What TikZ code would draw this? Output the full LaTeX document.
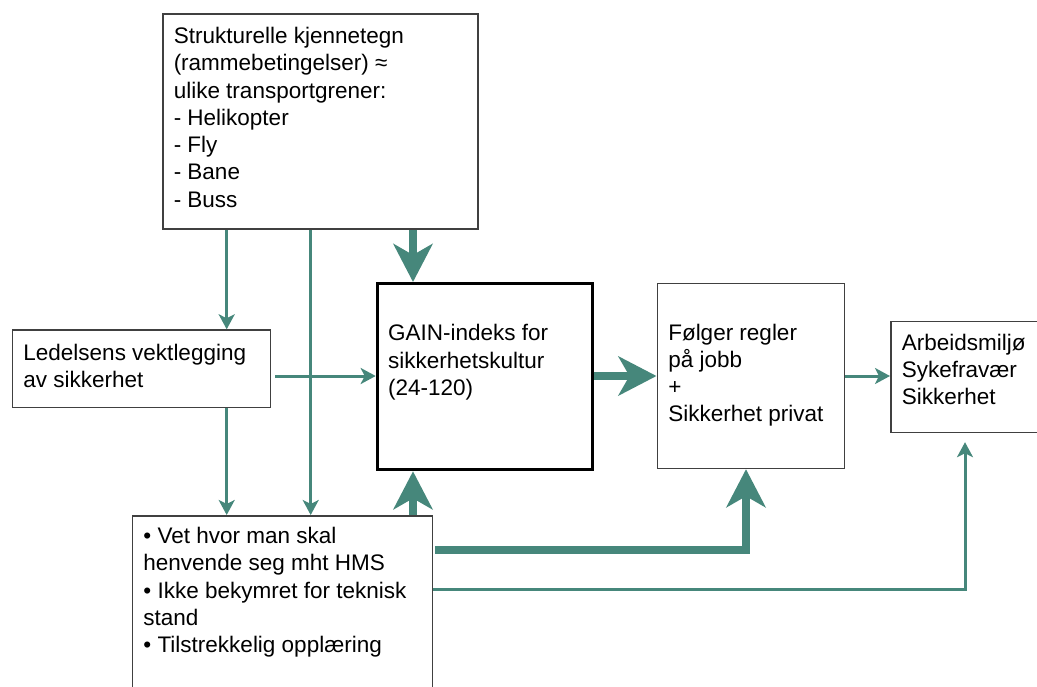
\documentclass[tikz,border=0pt]{standalone}
\usepackage{fontspec}
\setmainfont{Liberation Sans}
\usetikzlibrary{arrows.meta,calc}
\definecolor{linkteal}{RGB}{70,135,123}
\newcommand{\bxt}[4]{\parbox[c][#2][t]{#1}{\vspace*{#3}\raggedright\strut #4}}
\begin{document}
\begin{tikzpicture}[x=1pt,y=-1pt,
  box/.style={draw=black!75, line width=1.5pt, rectangle, inner xsep=11pt, inner ysep=0pt,
    anchor=north west, font=\fontsize{22.5pt}{27.3pt}\selectfont},
  mainbox/.style={box, draw=black, line width=3pt},
  lnk/.style={draw=linkteal, line width=3pt, -{Stealth[length=15pt,width=16pt,inset=4pt]}},
  biglnk/.style={draw=linkteal, line width=7.5pt, -{Stealth[length=38pt,width=39pt,inset=11pt]}}]
\useasboundingbox (0,0) rectangle (1037,686);
\clip (0,0) rectangle (1037,686);

\node[box] (A) at (162,13.3) {\bxt{293pt}{215pt}{10.3pt}{Strukturelle kjennetegn\\(rammebetingelser) ≈\\ulike transportgrener:\\- Helikopter\\- Fly\\- Bane\\- Buss}};
\node[box] (L) at (11.7,329.3) {\bxt{236pt}{77.4pt}{10.9pt}{Ledelsens vektlegging\\av sikkerhet}};
\node[mainbox] (G) at (375.7,282) {\bxt{193pt}{186.3pt}{38.2pt}{GAIN-indeks for\\sikkerhetskultur\\(24-120)}};
\node[box] (F) at (656.5,282.7) {\bxt{165pt}{185pt}{37.5pt}{Følger regler\\på jobb\\+\\Sikkerhet privat}};
\node[box] (R) at (890,320.7) {\bxt{140pt}{111pt}{9.5pt}{Arbeidsmiljø\\Sykefravær\\Sikkerhet}};
\node[box] (B) at (131.7,515) {\bxt{278pt}{200pt}{8.6pt}{• Vet hvor man skal\\henvende seg mht HMS\\• Ikke bekymret for teknisk\\stand\\• Tilstrekkelig opplæring}};

\coordinate (xa) at (226.7,0);
\coordinate (xb) at (310.7,0);
\coordinate (xg) at (413,0);
\coordinate (xf) at (746,0);
\coordinate (xr) at (965,0);
\coordinate (ym) at (0,376);
\coordinate (y1) at (0,550);
\coordinate (y2) at (0,589);

\draw[lnk] (A.south -| xa) -- (L.north -| xa);
\draw[lnk] (A.south -| xb) -- (B.north -| xb);
\draw[biglnk] (A.south -| xg) -- (G.north -| xg);
\draw[lnk, shorten <=4pt] (L.east |- ym) -- (G.west |- ym);
\draw[lnk] (L.south -| xa) -- (B.north -| xa);
\draw[biglnk] (G.east |- ym) -- (F.west |- ym);
\draw[lnk] (F.east |- ym) -- (R.west |- ym);
\draw[biglnk] (B.north -| xg) -- (G.south -| xg);
\draw[biglnk, shorten <=2pt] (B.east |- y1) -| (F.south -| xf);
\draw[lnk] (B.east |- y2) -| ($(R.south -| xr)+(0,9)$);
\end{tikzpicture}
\end{document}
